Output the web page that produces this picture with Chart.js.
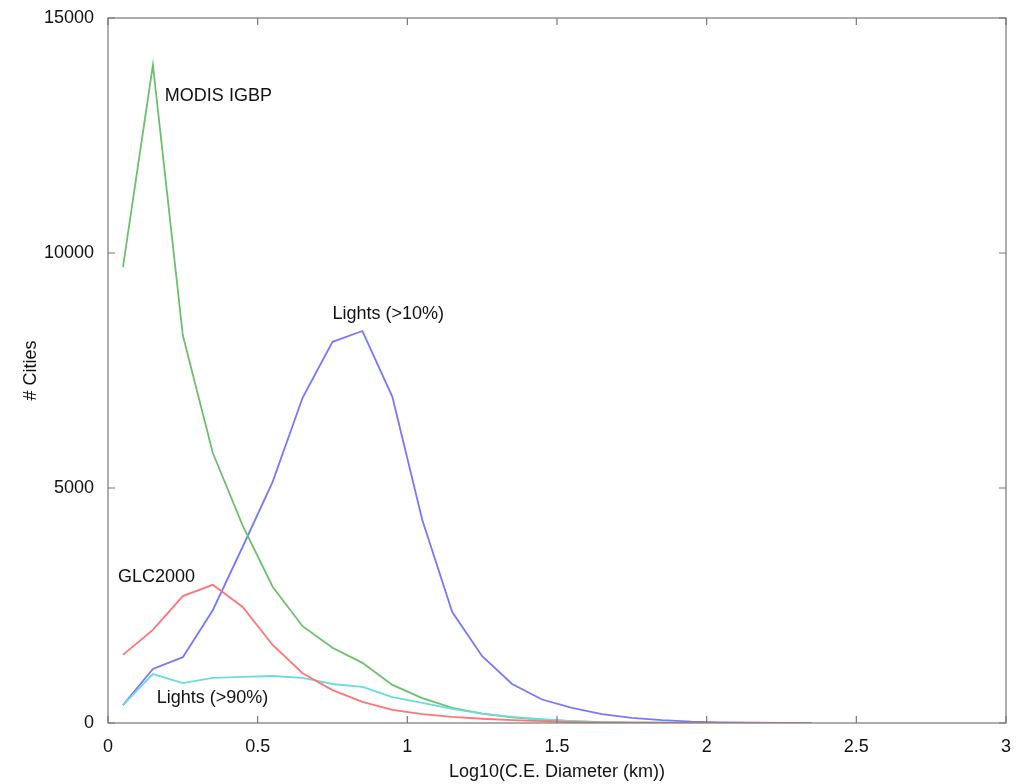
<!DOCTYPE html>
<html>
<head>
<meta charset="utf-8">
<script src="https://cdn.jsdelivr.net/npm/chart.js@4.4.1/dist/chart.umd.min.js"></script>
<style>
  html, body { margin: 0; padding: 0; background: #fff; }
  #wrap { width: 1034px; height: 784px; }
</style>
</head>
<body>
<div id="wrap"><canvas id="histo"></canvas></div>
<script>
// bin centres, Log10(C.E. diameter in km)
var binCentres = [0.05, 0.15, 0.25, 0.35, 0.45, 0.55, 0.65, 0.75, 0.85, 0.95, 1.05, 1.15,
                  1.25, 1.35, 1.45, 1.55, 1.65, 1.75, 1.85, 1.95, 2.05, 2.15, 2.25, 2.35];

var modisIgbp = [9700, 14000, 8250, 5750, 4200, 2900, 2060, 1600, 1280, 810, 530, 320,
                 200, 120, 70, 40, 20, 10, 5, 3, 2, 1, 0, 0];
var lights10  = [380, 1150, 1400, 2400, 3750, 5130, 6920, 8110, 8340, 6940, 4320, 2360,
                 1420, 830, 500, 320, 190, 110, 60, 30, 15, 8, 4, 2];
var glc2000   = [1450, 1980, 2700, 2940, 2470, 1660, 1060, 700, 450, 280, 190, 130,
                 90, 60, 40, 20, 10, 5, 2, 1, 0, 0, 0, 0];
var lights90  = [380, 1040, 850, 960, 980, 1000, 960, 830, 770, 550, 430, 300,
                 200, 130, 80, 40, 20, 10, 5, 2, 1, 0, 0, 0];

var xTicks = [0, 0.5, 1, 1.5, 2, 2.5, 3];
var yTicks = [0, 5000, 10000, 15000];

var labels = [
  { text: 'MODIS IGBP',    x: 0.19,  y: 13350 },
  { text: 'Lights (>10%)', x: 0.75,  y: 8700 },
  { text: 'GLC2000',       x: 0.033, y: 3100 },
  { text: 'Lights (>90%)', x: 0.163, y: 530 }
];

function pts(vals) {
  return binCentres.map(function (c, i) { return { x: c, y: vals[i] }; });
}

var FONT = 'Liberation Sans, Arial, Helvetica, sans-serif';
var TXT = '#111';

// matlab style box with inward ticks + curve labels
var boxPlugin = {
  id: 'matlabBox',
  afterDatasetsDraw: function (chart) {
    var ctx = chart.ctx, a = chart.chartArea;
    var sx = chart.scales.x, sy = chart.scales.y;
    var tl = 7;
    ctx.save();
    ctx.strokeStyle = '#777';
    ctx.lineWidth = 1.2;
    ctx.strokeRect(a.left, a.top, a.right - a.left, a.bottom - a.top);
    ctx.beginPath();
    xTicks.forEach(function (v) {
      var px = sx.getPixelForValue(v);
      ctx.moveTo(px, a.bottom); ctx.lineTo(px, a.bottom - tl);
      ctx.moveTo(px, a.top); ctx.lineTo(px, a.top + tl);
    });
    yTicks.forEach(function (v) {
      var py = sy.getPixelForValue(v);
      ctx.moveTo(a.left, py); ctx.lineTo(a.left + tl, py);
      ctx.moveTo(a.right, py); ctx.lineTo(a.right - tl, py);
    });
    ctx.stroke();

    ctx.fillStyle = TXT;
    ctx.font = '18px ' + FONT;
    ctx.textAlign = 'left';
    ctx.textBaseline = 'middle';
    labels.forEach(function (l) {
      ctx.fillText(l.text, sx.getPixelForValue(l.x), sy.getPixelForValue(l.y));
    });
    ctx.restore();
  }
};

function line(vals, color) {
  return {
    data: pts(vals),
    borderColor: color,
    borderWidth: 1.8,
    pointRadius: 0,
    fill: false,
    tension: 0
  };
}

function plain(v) { return String(v); }

var ctx = document.getElementById('histo');
var myChart = new Chart(ctx, {
  type: 'line',
  data: {
    datasets: [
      line(glc2000, '#ff7474'),
      line(lights90, '#6adcdc'),
      line(modisIgbp, '#6cc06c'),
      line(lights10, '#7878ff')
    ]
  },
  options: {
    responsive: true,
    maintainAspectRatio: false,
    animation: false,
    layout: { padding: { top: 18, right: 28, left: 0, bottom: 0 } },
    plugins: {
      legend: { display: false },
      tooltip: { enabled: false }
    },
    scales: {
      x: {
        type: 'linear',
        min: 0,
        max: 3,
        afterFit: function (s) { s.height = 61; },
        afterBuildTicks: function (s) { s.ticks = xTicks.map(function (v) { return { value: v }; }); },
        grid: { display: false },
        border: { display: false },
        ticks: { color: TXT, padding: 5, maxRotation: 0, callback: plain, font: { size: 18, family: FONT } },
        title: {
          display: true,
          text: 'Log10(C.E. Diameter (km))',
          color: TXT,
          font: { size: 18, family: FONT },
          padding: { top: 0, bottom: 1 }
        }
      },
      y: {
        min: 0,
        max: 15000,
        afterFit: function (s) { s.width = 108; },
        afterBuildTicks: function (s) { s.ticks = yTicks.map(function (v) { return { value: v }; }); },
        grid: { display: false },
        border: { display: false },
        ticks: { color: TXT, padding: 6, callback: plain, font: { size: 18, family: FONT } },
        title: {
          display: true,
          text: '# Cities',
          color: TXT,
          font: { size: 18, family: FONT },
          padding: { top: 20, bottom: 0 }
        }
      }
    }
  },
  plugins: [boxPlugin]
});
</script>
</body>
</html>
